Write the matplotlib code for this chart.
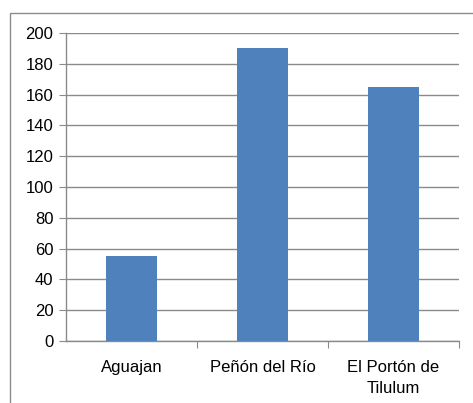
import matplotlib
matplotlib.use("Agg")
import matplotlib.pyplot as plt
from matplotlib.patches import Rectangle

categories = ["Aguajan", "Peñón del Río", "El Portón de\nTilulum"]
values = [55, 190, 165]
yticks = [0, 20, 40, 60, 80, 100, 120, 140, 160, 180, 200]

plt.rcParams['font.family'] = ['Liberation Sans', 'DejaVu Sans']

W, H = 473, 403
fig = plt.figure(figsize=(W / 100, H / 100), dpi=100)
fig.patch.set_facecolor('white')

# outer chart border
fig.patches.append(Rectangle((9.5 / W, -0.1), 1.2, 1 - 12.5 / H + 0.1,
                             transform=fig.transFigure, fill=False,
                             edgecolor='#8c8c8c', linewidth=1.0))

left, right, top, bottom = 66, 459, 33, 341
ax = fig.add_axes([left / W, 1 - bottom / H, (right - left) / W, (bottom - top) / H])

x = range(len(categories))
ax.bar(x, values, width=0.39, color='#4F81BD', zorder=3)
ax.set_xlim(-0.5, len(categories) - 0.5)
ax.set_ylim(0, 200)
ax.set_yticks(yticks)
ax.set_yticklabels([str(v) for v in yticks], fontsize=12)
ax.yaxis.grid(True, color='#8a8a8a', linewidth=1.0, zorder=0)
ax.set_axisbelow(True)

for s in ['top', 'right']:
    ax.spines[s].set_visible(False)
for s in ['left', 'bottom']:
    ax.spines[s].set_color('#8a8a8a')
    ax.spines[s].set_linewidth(1.0)

ax.tick_params(axis='y', length=5, color='#8a8a8a', pad=4, labelcolor='black')
ax.set_xticks([i + 0.5 for i in x][:-1] + [len(categories) - 0.5], minor=False)
ax.set_xticklabels([])
ax.tick_params(axis='x', length=5, color='#8a8a8a')
ax.set_xticks(list(x), minor=True)
ax.set_xticklabels(categories, minor=True, fontsize=12, linespacing=1.45)
ax.tick_params(axis='x', which='minor', length=0, pad=14, labelcolor='black')

fig.savefig("out.png", dpi=100, facecolor='white')
